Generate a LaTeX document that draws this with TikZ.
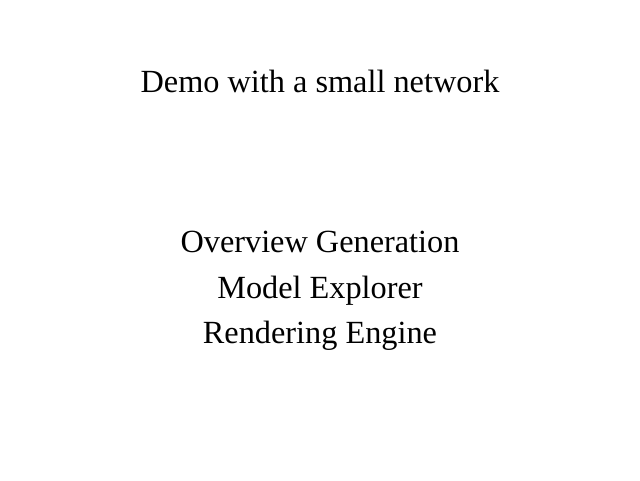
\documentclass[tikz,border=0pt]{standalone}
\usepackage{fontspec}
\setmainfont{Liberation Serif}
\usepackage{tikz}
\usetikzlibrary{positioning}
\tikzset{label text/.style={font=\fontsize{32.3}{38}\selectfont, inner sep=0pt, anchor=base}}

\begin{document}
\begin{tikzpicture}[x=1pt,y=1pt]

\useasboundingbox (0,0) rectangle (640,480);
\node [label text] (title) at (320,387) {Demo with a small network};
\node [label text] (overview) at (320,227) {Overview Generation};
\node [label text] (explorer) at (320,182) {Model Explorer};
\node [label text] (engine) at (320,137) {Rendering Engine};

\end{tikzpicture}
\end{document}
